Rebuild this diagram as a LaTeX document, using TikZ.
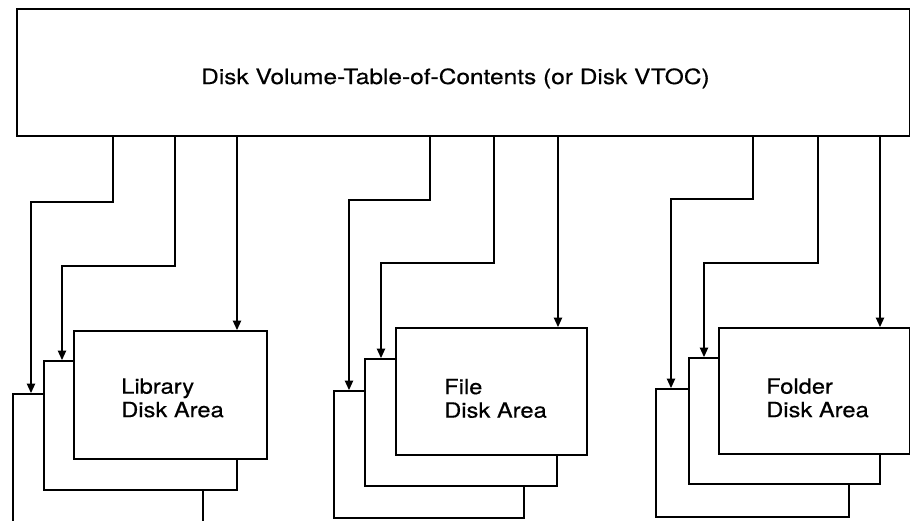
\documentclass[tikz,border=0pt]{standalone}
\usepackage{fontspec}
\setmainfont{TeX Gyre Heros}[FakeStretch=1.13,FakeBold=0.4]
\newfontfamily\titlefont{TeX Gyre Heros}[FakeStretch=1.165,FakeBold=0.4]
\usetikzlibrary{arrows.meta}
\begin{document}
\begin{tikzpicture}[x=1pt,y=-1pt,
  box/.style={draw=black, line width=1.8pt, fill=white, rectangle, inner sep=0pt,
    minimum width=192pt, minimum height=127pt, anchor=north west},
  vtocbox/.style={draw=black, line width=1.8pt, fill=white, rectangle, inner sep=0pt,
    minimum width=893pt, minimum height=127pt, anchor=north west},
  conn/.style={draw=black, line width=1.1pt, -{Triangle[length=9.5pt,width=8.5pt]}},
  lbl/.style={font=\fontsize{21}{23.5}\selectfont, align=left, anchor=west, inner sep=0pt},
  title/.style={font=\titlefont\fontsize{21}{24}\selectfont, inner sep=0pt}]
\useasboundingbox (0,0) rectangle (910,520);
\clip (0,0) rectangle (910,520);

% top box
\node[vtocbox] (vtoc) at (16,8) {};
\node[title, xshift=-8pt, yshift=-6pt] (vtoctext) at (vtoc.center) {Disk Volume-Table-of-Contents (or Disk VTOC)};

% Library group
\node[box, minimum height=134pt, minimum width=190pt] (lib3) at (12,393) {};
\node[box, minimum width=193pt, minimum height=129pt] (lib2) at (43,360) {};
\node[box, minimum width=193pt, minimum height=128pt] (lib1) at (73,330) {};
\node[lbl, xshift=48pt, yshift=-3pt] (libtext) at (lib1.west) {Library\\Disk Area};

% File group
\node[box, minimum width=190pt, minimum height=127pt] (file3) at (333,390) {};
\node[box, minimum width=192pt, minimum height=127pt] (file2) at (364,358) {};
\node[box, minimum width=191pt, minimum height=127pt] (file1) at (395,327) {};
\node[lbl, xshift=49pt, yshift=-7pt] (filetext) at (file1.west) {File\\Disk Area};

% Folder group
\node[box, minimum width=193pt, minimum height=128pt] (fold3) at (655,388) {};
\node[box, minimum width=191pt, minimum height=126pt] (fold2) at (688,357) {};
\node[box, minimum width=191pt, minimum height=126pt] (fold1) at (718,327) {};
\node[lbl, xshift=48pt, yshift=-7pt] (foldtext) at (fold1.west) {Folder\\Disk Area};

% connectors - Library
\draw[conn] (vtoc.south -| 113,0) -- (113,202) -- (31,202) -- (lib3.north -| 31,0);
\draw[conn] (vtoc.south -| 175,0) -- (175,266) -- (62,266) -- (lib2.north -| 62,0);
\draw[conn] (vtoc.south -| 237,0) -- (lib1.north -| 237,0);

% connectors - File
\draw[conn] (vtoc.south -| 430,0) -- (430,200) -- (349,200) -- (file3.north -| 349,0);
\draw[conn] (vtoc.south -| 494,0) -- (494,263) -- (381,263) -- (file2.north -| 381,0);
\draw[conn] (vtoc.south -| 558,0) -- (file1.north -| 558,0);

% connectors - Folder
\draw[conn] (vtoc.south -| 753,0) -- (753,199) -- (671,199) -- (fold3.north -| 671,0);
\draw[conn] (vtoc.south -| 818,0) -- (818,263) -- (704,263) -- (fold2.north -| 704,0);
\draw[conn] (vtoc.south -| 880,0) -- (fold1.north -| 880,0);
\end{tikzpicture}
\end{document}
